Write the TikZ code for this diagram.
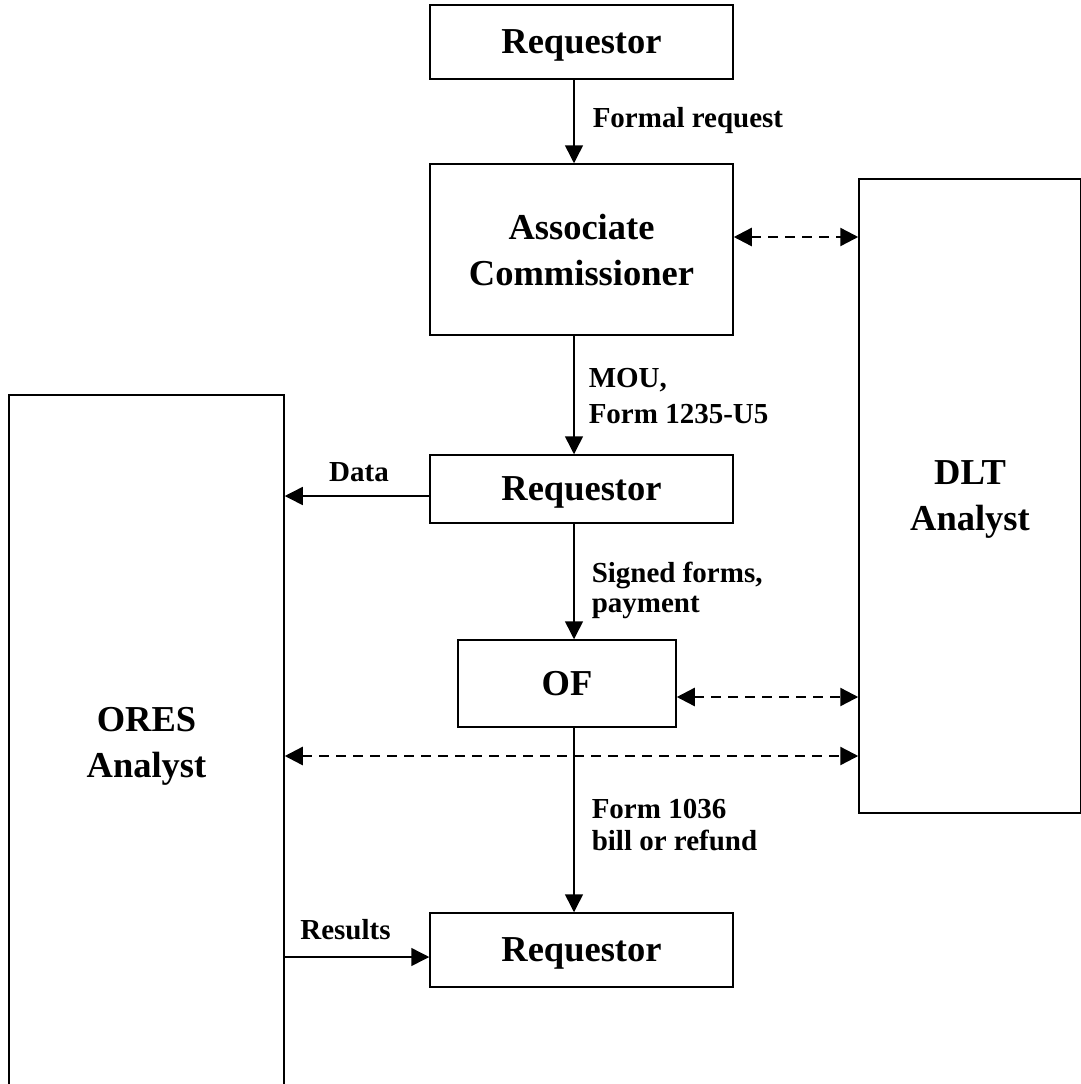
\documentclass[tikz,border=0pt]{standalone}
\usepackage{fontspec}
\setmainfont{Liberation Serif}
\usetikzlibrary{arrows.meta,calc}
\begin{document}
\begin{tikzpicture}[x=1pt,y=-1pt,
  box/.style={draw,line width=1.5pt,inner sep=0pt,align=center,text depth=0pt,
    font=\fontsize{36.5}{46}\selectfont\bfseries},
  lbl/.style={inner sep=0pt,align=left,font=\fontsize{29}{30}\selectfont\bfseries},
  arr/.style={line width=1.5pt,-{Triangle[length=18pt,width=18pt]}},
  darr/.style={line width=2.4pt,dash pattern=on 10pt off 7pt,
    {Triangle[length=18pt,width=18pt]}-{Triangle[length=18pt,width=18pt]}}]
\useasboundingbox[fill=white] (0,0) rectangle (1080,1084);
\coordinate (col) at (574,0);
\node[box,minimum width=303pt,minimum height=74pt] (r1) at (581.5,42) {Requestor};
\node[box,minimum width=303pt,minimum height=171pt] (ac) at (581.5,249.5) {Associate\\Commissioner};
\node[box,minimum width=303pt,minimum height=68pt] (r2) at (581.5,489) {Requestor};
\node[box,minimum width=218pt,minimum height=87pt] (of) at (567,683.5) {OF};
\node[box,minimum width=303pt,minimum height=74pt] (r3) at (581.5,950) {Requestor};
\node[box,minimum width=275pt,minimum height=694pt] (ores) at (146.5,742) {ORES\\Analyst};
\node[box,minimum width=222pt,minimum height=634pt] (dlt) at (970,496) {DLT\\Analyst};

\draw[arr] (r1.south -| col) -- node[lbl,anchor=west,xshift=18pt,yshift=1pt] {Formal request} (ac.north -| col);
\draw[arr] (ac.south -| col) -- node[lbl,anchor=west,xshift=14pt,yshift=-1pt,
  font=\fontsize{29}{36}\selectfont\bfseries] {MOU,\\Form 1235-U5} (r2.north -| col);
\draw[arr] (r2.south -| col) -- node[lbl,anchor=west,xshift=17pt,yshift=-9pt] {Signed forms,\\payment} (of.north -| col);
\draw[arr] (of.south -| col) -- node[lbl,anchor=west,xshift=17pt,yshift=-5pt,
  font=\fontsize{29}{32}\selectfont\bfseries] {Form 1036\\bill or refund} (r3.north -| col);
\draw[arr] (r2.west |- 0,496) -- node[lbl,anchor=south,xshift=2pt,yshift=13pt] {Data} (ores.east |- 0,496);
\draw[arr] (ores.east |- 0,957) -- node[lbl,anchor=south,xshift=-11.5pt,yshift=16pt] {Results} (r3.west |- 0,957);
\draw[darr] (ac.east |- 0,237) -- (dlt.west |- 0,237);
\draw[darr] (of.east |- 0,697) -- (dlt.west |- 0,697);
\draw[darr] (ores.east |- 0,756) -- (dlt.west |- 0,756);
\end{tikzpicture}
\end{document}
